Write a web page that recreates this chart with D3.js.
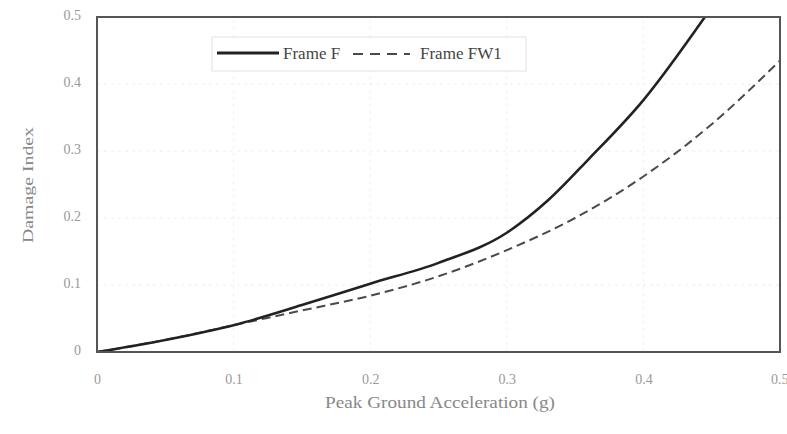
<!DOCTYPE html>
<html>
<head>
<meta charset="utf-8">
<script src="https://cdn.jsdelivr.net/npm/d3@7"></script>
<style>
  body { margin: 0; background: #fff; }
  svg { font-family: "Liberation Serif", "DejaVu Serif", serif; }
</style>
</head>
<body>
<div id="chart"></div>
<script>
// data
var pga = [0, 0.05, 0.1, 0.15, 0.2, 0.25, 0.3, 0.33, 0.36, 0.4, 0.445];
var frameF = [0, 0.018, 0.04, 0.07, 0.102, 0.133, 0.178, 0.226, 0.288, 0.376, 0.5];
var pgaW = [0, 0.05, 0.1, 0.15, 0.2, 0.25, 0.3, 0.35, 0.4, 0.45, 0.5];
var frameFW1 = [0, 0.018, 0.04, 0.062, 0.084, 0.113, 0.152, 0.2, 0.262, 0.34, 0.435];
var xTicks = [0, 0.1, 0.2, 0.3, 0.4, 0.5];
var yTicks = [0, 0.1, 0.2, 0.3, 0.4, 0.5];
var seriesNames = ["Frame F", "Frame FW1"];

var width = 787, height = 434;
var m = { left: 97, right: 8, top: 17, bottom: 82 };

var svg = d3.select("#chart").append("svg")
  .attr("width", width)
  .attr("height", height);

var x = d3.scaleLinear().domain([0, 0.5]).range([m.left, width - m.right + 1]);
var y = d3.scaleLinear().domain([0, 0.5]).range([height - m.bottom, m.top]);

// faint grid (barely visible in the scan)
svg.append("g")
  .selectAll("line")
  .data(yTicks.slice(1, -1))
  .enter().append("line")
  .attr("x1", x(0)).attr("x2", x(0.5))
  .attr("y1", function(d) { return y(d); })
  .attr("y2", function(d) { return y(d); })
  .attr("stroke", "#eeeeee")
  .attr("stroke-dasharray", "3,4");

svg.append("g")
  .selectAll("line")
  .data(xTicks.slice(1, -1))
  .enter().append("line")
  .attr("y1", y(0)).attr("y2", y(0.5))
  .attr("x1", function(d) { return x(d); })
  .attr("x2", function(d) { return x(d); })
  .attr("stroke", "#f0f0f0")
  .attr("stroke-dasharray", "3,4");

// axes (tick labels only, frame drawn below)
var fmt = function(d) { return d === 0 ? "0" : d3.format(".1f")(d); };
var xAxis = d3.axisBottom(x).tickValues(xTicks).tickSize(0).tickPadding(22).tickFormat(fmt);
var yAxis = d3.axisLeft(y).tickValues(yTicks).tickSize(0).tickPadding(16).tickFormat(fmt);

var gx = svg.append("g")
  .attr("transform", "translate(0," + y(0) + ")")
  .call(xAxis);
var gy = svg.append("g")
  .attr("transform", "translate(" + x(0) + ",-2)")
  .call(yAxis);
[gx, gy].forEach(function(g) {
  g.select(".domain").remove();
  g.selectAll("text")
    .attr("font-family", "Liberation Serif, serif")
    .attr("font-size", 14)
    .attr("fill", "#999");
});
// last x label sits at the right edge: keep it inside the page
gx.selectAll(".tick text")
  .filter(function(d) { return d === 0.5; })
  .attr("text-anchor", "end")
  .attr("dx", 8);

// clip for curves
svg.append("clipPath").attr("id", "plot")
  .append("rect")
  .attr("x", x(0)).attr("y", y(0.5))
  .attr("width", x(0.5) - x(0)).attr("height", y(0) - y(0.5));

var line = d3.line()
  .x(function(d) { return x(d[0]); })
  .y(function(d) { return y(d[1]); })
  .curve(d3.curveMonotoneX);

svg.append("path")
  .datum(d3.zip(pgaW, frameFW1))
  .attr("clip-path", "url(#plot)")
  .attr("fill", "none")
  .attr("stroke", "#4a4a4a")
  .attr("stroke-width", 2)
  .attr("stroke-dasharray", "9,5")
  .attr("d", line);

svg.append("path")
  .datum(d3.zip(pga, frameF))
  .attr("clip-path", "url(#plot)")
  .attr("fill", "none")
  .attr("stroke", "#222")
  .attr("stroke-width", 2.6)
  .attr("d", line);

// frame
svg.append("rect")
  .attr("x", x(0)).attr("y", y(0.5))
  .attr("width", x(0.5) - x(0)).attr("height", y(0) - y(0.5))
  .attr("fill", "none")
  .attr("stroke", "#555")
  .attr("stroke-width", 2);

// legend
var lg = svg.append("g");
lg.append("rect")
  .attr("x", 212).attr("y", 37)
  .attr("width", 314).attr("height", 34)
  .attr("fill", "#fff")
  .attr("stroke", "#e2e2e2");
lg.append("line")
  .attr("x1", 217).attr("x2", 279)
  .attr("y1", 53).attr("y2", 53)
  .attr("stroke", "#222").attr("stroke-width", 3);
lg.append("text")
  .attr("x", 283).attr("y", 59)
  .attr("font-size", 17).attr("fill", "#444")
  .text(seriesNames[0]);
lg.append("line")
  .attr("x1", 353).attr("x2", 410)
  .attr("y1", 54).attr("y2", 54)
  .attr("stroke", "#4a4a4a").attr("stroke-width", 2)
  .attr("stroke-dasharray", "10,7");
lg.append("text")
  .attr("x", 420).attr("y", 59)
  .attr("font-size", 17).attr("fill", "#444")
  .text(seriesNames[1]);

// axis titles
svg.append("text")
  .attr("x", 440).attr("y", 408)
  .attr("text-anchor", "middle")
  .attr("font-size", 16).attr("fill", "#888")
  .attr("textLength", 230)
  .attr("lengthAdjust", "spacingAndGlyphs")
  .text("Peak Ground Acceleration (g)");

svg.append("text")
  .attr("transform", "translate(33,185) rotate(-90)")
  .attr("text-anchor", "middle")
  .attr("font-size", 15).attr("fill", "#888")
  .attr("textLength", 116)
  .attr("lengthAdjust", "spacingAndGlyphs")
  .text("Damage Index");
</script>
</body>
</html>
